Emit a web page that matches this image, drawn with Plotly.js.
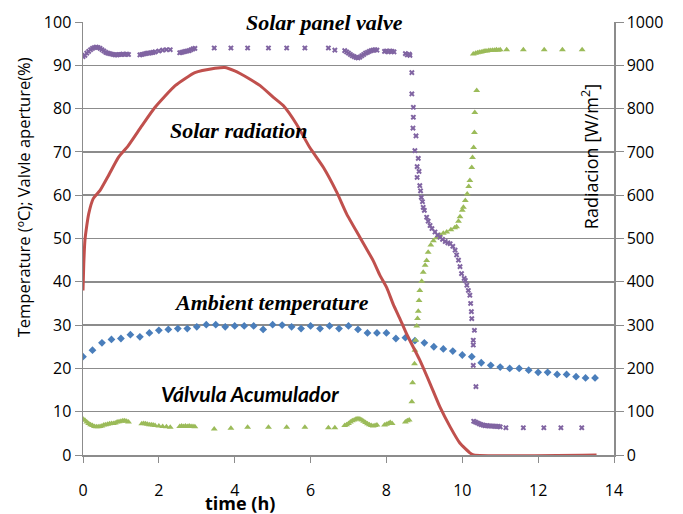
<!DOCTYPE html>
<html>
<head>
<meta charset="utf-8">
<script src="https://cdn.plot.ly/plotly-3.0.1.min.js"></script>
<style>html,body{margin:0;padding:0;background:#fff;}#chart{width:683px;height:514px;}</style>
</head>
<body>
<div id="chart"></div>
<script>
// Solar radiation (W/m2)
const radTime = [0, 0.02, 0.05, 0.1, 0.15, 0.27, 0.45, 0.67, 0.93, 1.19, 1.55, 1.9, 2.43, 2.95, 3.48, 3.74, 4.0, 4.14, 4.36, 4.67, 5.02, 5.28, 5.63, 5.98, 6.34, 6.69, 6.95, 7.3, 7.65, 7.83, 8.01, 8.18, 8.36, 8.53, 8.88, 9.15, 9.41, 9.68, 9.94, 10.2, 10.3, 13.54];
const radValue = [380, 440, 495, 530, 557, 592, 611, 645, 687, 714, 760, 803, 853, 883, 893, 895, 887, 881, 870, 853, 826, 807, 764, 710, 664, 607, 557, 503, 449, 415, 386, 348, 314, 280, 219, 165, 111, 65, 27, 5, 0, 0];

// Ambient temperature (ºC)
const ambTime = [0, 0.25, 0.5, 0.75, 1.0, 1.25, 1.5, 1.75, 2.0, 2.25, 2.5, 2.75, 3.0, 3.25, 3.5, 3.75, 4.0, 4.25, 4.5, 4.75, 5.0, 5.25, 5.5, 5.75, 6.0, 6.25, 6.5, 6.75, 7.0, 7.25, 7.5, 7.75, 8.0, 8.25, 8.5, 8.75, 9.0, 9.25, 9.5, 9.75, 10.0, 10.25, 10.5, 10.75, 11.0, 11.25, 11.5, 11.75, 12.0, 12.25, 12.5, 12.75, 13.0, 13.25, 13.5];
const ambValue = [22.7, 24.2, 25.9, 26.7, 26.9, 27.8, 27.3, 28.2, 28.8, 29.0, 29.2, 29.2, 29.6, 30.1, 30.1, 29.6, 29.8, 29.8, 29.8, 29.0, 30.1, 30.0, 29.6, 29.2, 29.8, 29.2, 29.8, 29.2, 29.8, 29.0, 28.2, 28.2, 28.2, 26.9, 27.1, 26.4, 25.9, 25.0, 24.5, 24.0, 23.1, 22.7, 21.3, 20.7, 20.3, 20.0, 20.0, 19.6, 19.1, 19.1, 18.6, 18.6, 18.1, 17.8, 17.8];

// Solar panel valve (%)
const panelTime = [0.0, 0.05, 0.1, 0.15, 0.2, 0.25, 0.3, 0.35, 0.4, 0.45, 0.5, 0.55, 0.6, 0.65, 0.7, 0.75, 0.8, 0.85, 0.9, 0.95, 1.0, 1.05, 1.1, 1.15, 1.2,
  1.5, 1.55, 1.6, 1.65, 1.7, 1.75, 1.8, 1.85, 1.9, 2.0, 2.1, 2.2, 2.3,
  2.55, 2.6, 2.65, 2.7, 2.75, 2.8, 2.85, 2.9, 2.95,
  3.46, 3.90, 4.34, 4.89, 5.37, 5.85, 6.47, 6.64,
  6.9, 6.95, 7.0, 7.05, 7.1, 7.15, 7.2, 7.25, 7.3, 7.35, 7.4, 7.45, 7.5, 7.55, 7.6, 7.65, 7.7, 7.75,
  7.95, 8.0, 8.05, 8.1, 8.15, 8.2,
  8.5, 8.55, 8.6, 8.62,
  8.67, 8.67, 8.71, 8.71, 8.70, 8.78, 8.75, 8.81, 8.84, 8.81, 8.86, 8.88, 8.9, 8.92, 8.95, 8.97, 9.0, 9.06, 9.1, 9.15, 9.2, 9.28, 9.35, 9.41, 9.48, 9.55, 9.62, 9.68, 9.75, 9.81, 9.85, 9.9, 9.94, 9.98, 10.05, 10.08, 10.12, 10.16, 10.2, 10.22, 10.24, 10.25, 10.32, 10.29, 10.29, 10.29, 10.36,
  10.3, 10.35, 10.4, 10.45, 10.5, 10.55, 10.6, 10.65, 10.7, 10.75, 10.8, 10.85, 10.9, 10.95, 11.0,
  11.15, 11.61, 12.15, 12.6, 13.15];
const panelValue = [92.0, 92.3, 92.8, 93.2, 93.6, 93.9, 94.1, 94.2, 94.1, 93.9, 93.6, 93.3, 93.0, 92.8, 92.7, 92.6, 92.5, 92.4, 92.4, 92.5, 92.5, 92.6, 92.5, 92.6, 92.5,
  92.4, 92.5, 92.6, 92.7, 92.8, 92.8, 92.9, 93.0, 93.1, 93.3, 93.5, 93.6, 93.6,
  92.9, 93.0, 93.1, 93.2, 93.3, 93.4, 93.6, 93.8, 93.9,
  94.0, 94.0, 94.0, 94.0, 94.0, 94.0, 94.0, 93.5,
  93.4, 93.1, 92.8, 92.5, 92.2, 92.0, 91.8, 91.7, 91.9, 92.2, 92.5, 92.8, 93.0, 93.2, 93.4, 93.5, 93.6, 93.5,
  93.2, 93.3, 93.1, 93.3, 93.2, 93.1,
  92.7, 92.4, 92.6, 92.3,
  88.3, 83.4, 80.3, 78.0, 75.5, 73.7, 70.3, 66.6, 68.5, 64.1, 65.5, 62.2, 61.0, 59.5, 58.5, 57.2, 56.5, 54.9, 54.0, 53.0, 52.3, 51.5, 50.8, 50.3, 49.8, 49.3, 49.0, 48.8, 48.2, 47.3, 46.2, 45.0, 43.5, 41.9, 40.8, 40.3, 39.2, 38.0, 36.9, 35.0, 33.1, 31.5, 28.8, 26.5, 25.4, 20.7, 15.8,
  7.8, 7.6, 7.4, 7.2, 7.0, 6.9, 6.8, 6.8, 6.7, 6.7, 6.7, 6.6, 6.6, 6.6, 6.5,
  6.3, 6.3, 6.3, 6.3, 6.3];

// Válvula Acumulador (%)
const accTime = [0.0, 0.05, 0.1, 0.15, 0.2, 0.25, 0.3, 0.35, 0.4, 0.45, 0.5, 0.55, 0.6, 0.65, 0.7, 0.75, 0.8, 0.85, 0.9, 0.95, 1.0, 1.05, 1.1, 1.15, 1.2,
  1.55, 1.6, 1.65, 1.7, 1.75, 1.8, 1.85, 1.9, 2.0, 2.1, 2.2, 2.3,
  2.55, 2.6, 2.65, 2.7, 2.75, 2.8, 2.85, 2.9, 2.95,
  3.46, 3.90, 4.34, 4.89, 5.37, 5.85, 6.47, 6.64,
  6.9, 6.95, 7.0, 7.05, 7.1, 7.15, 7.2, 7.25, 7.3, 7.35, 7.4, 7.45, 7.5, 7.55, 7.6, 7.65, 7.7, 7.75,
  7.95, 8.0, 8.05, 8.1, 8.15,
  8.5, 8.55, 8.6,
  8.67, 8.69, 8.74, 8.75, 8.77, 8.8, 8.82, 8.84, 8.86, 8.88, 8.93, 8.97, 9.02, 9.06, 9.1, 9.17, 9.24, 9.32, 9.41, 9.5, 9.59, 9.7, 9.8, 9.85, 9.9, 9.94, 10.0, 10.03, 10.08, 10.13, 10.17, 10.2, 10.25, 10.27, 10.3, 10.32, 10.33, 10.38,
  10.29, 10.35, 10.4, 10.45, 10.5, 10.55, 10.6, 10.65, 10.7, 10.75, 10.8, 10.85, 10.9, 10.95, 11.0,
  11.17, 11.61, 12.16, 12.64, 13.16];
const accValue = [8.3, 8.0, 7.6, 7.3, 7.0, 6.8, 6.6, 6.5, 6.5, 6.6, 6.7, 6.9, 7.0, 7.1, 7.2, 7.3, 7.3, 7.4, 7.6, 7.7, 7.8, 7.9, 7.9, 7.8, 7.6,
  7.2, 7.3, 7.2, 7.1, 7.0, 7.0, 6.9, 6.8, 6.7, 6.6, 6.5, 6.4,
  6.6, 6.7, 6.6, 6.7, 6.6, 6.7, 6.6, 6.6, 6.5,
  6.0, 6.2, 6.4, 6.4, 6.4, 6.4, 6.3, 6.3,
  6.8, 7.0, 7.3, 7.6, 7.9, 8.1, 8.3, 8.4, 8.3, 8.1, 7.8, 7.5, 7.2, 7.0, 6.8, 6.7, 6.8, 6.9,
  6.9, 7.1, 7.3, 7.5, 7.3,
  7.6, 7.9, 8.1,
  12.3, 16.7, 21.1, 24.2, 26.5, 29.8, 31.5, 33.2, 35.7, 38.0, 40.1, 42.2, 43.8, 44.9, 46.8, 48.5, 49.5, 50.2, 50.8, 51.2, 51.5, 52.0, 52.5, 52.7, 54.0, 55.0, 56.5, 57.2, 58.8, 60.3, 62.0, 63.4, 66.4, 68.7, 71.0, 74.5, 79.1, 84.2,
  92.6, 92.8, 92.9, 93.0, 93.1, 93.2, 93.3, 93.3, 93.4, 93.4, 93.5, 93.5, 93.6, 93.5, 93.6,
  93.6, 93.6, 93.6, 93.6, 93.6];

const xTicks = [0, 2, 4, 6, 8, 10, 12, 14];
const yTicks = [0, 10, 20, 30, 40, 50, 60, 70, 80, 90, 100];
const y2Ticks = [0, 100, 200, 300, 400, 500, 600, 700, 800, 900, 1000];

const tickFont = {family: 'Open Sans, sans-serif', size: 16, color: '#000'};
const serifLab = {family: 'Liberation Serif, serif', size: 22, color: '#000'};

const traces = [
  {x: ambTime, y: ambValue, type: 'scatter', mode: 'markers', name: 'Ambient temperature',
   marker: {symbol: 'diamond', size: 6, color: '#4a7ebb'}},
  {x: accTime, y: accValue, type: 'scatter', mode: 'markers', name: 'Válvula Acumulador',
   marker: {symbol: 'triangle-up', size: 6, color: '#9bbb59'}},
  {x: panelTime, y: panelValue, type: 'scatter', mode: 'markers', name: 'Solar panel valve',
   marker: {symbol: 'x', size: 5, color: '#8064a2'}},
  {x: radTime, y: radValue, type: 'scatter', mode: 'lines', name: 'Solar radiation', yaxis: 'y2',
   line: {color: '#c0504d', width: 3, shape: 'spline', smoothing: 0.5}}
];

const layout = {
  width: 683, height: 514,
  margin: {l: 83, r: 69, t: 22, b: 59},
  paper_bgcolor: '#fff', plot_bgcolor: '#fff',
  showlegend: false,
  xaxis: {range: [0, 14], tickvals: xTicks, ticktext: xTicks.map(String), showgrid: false, zeroline: false,
    showline: true, linecolor: '#8c8c8c', linewidth: 1.5, ticks: 'outside', ticklen: 6, tickcolor: '#8c8c8c',
    ticklabelstandoff: 14, tickfont: tickFont},
  yaxis: {range: [0, 100], tickvals: yTicks, ticktext: yTicks.map(String), showgrid: true, gridcolor: '#8c8c8c', gridwidth: 1.5,
    zeroline: false, showline: true, linecolor: '#8c8c8c', linewidth: 1.5, ticks: 'outside', ticklen: 7, tickcolor: '#8c8c8c',
    tickfont: tickFont},
  yaxis2: {range: [0, 1000], tickvals: y2Ticks, ticktext: y2Ticks.map(String), overlaying: 'y', side: 'right', showgrid: false,
    zeroline: false, showline: true, linecolor: '#8c8c8c', linewidth: 1.5, ticks: 'outside', ticklen: 8, tickcolor: '#8c8c8c',
    tickfont: tickFont},
  annotations: [
    {text: '<b><i>Solar panel valve</i></b>', x: 6.38, y: 100, xref: 'x', yref: 'y', xanchor: 'center', yanchor: 'middle', showarrow: false, font: serifLab},
    {text: '<b><i>Solar radiation</i></b>', x: 4.11, y: 75, xref: 'x', yref: 'y', xanchor: 'center', yanchor: 'middle', showarrow: false, font: serifLab},
    {text: '<b><i>Ambient temperature</i></b>', x: 4.96, y: 35.3, xref: 'x', yref: 'y', xanchor: 'center', yanchor: 'middle', showarrow: false, font: serifLab},
    {text: '<b><i>Válvula Acumulador</i></b>', x: 4.40, y: 14.3, xref: 'x', yref: 'y', xanchor: 'center', yanchor: 'middle', showarrow: false,
     font: {family: 'Lato, sans-serif', size: 21, color: '#000'}},
    {text: 'Temperature (ºC); Valvle aperture(%)', xref: 'paper', yref: 'paper', x: -0.112, y: 0.594, xanchor: 'center', yanchor: 'middle', textangle: -90,
     showarrow: false, font: {family: 'Open Sans, sans-serif', size: 16.5, color: '#000'}},
    {text: 'Radiacion [W/m<sup>2</sup>]', xref: 'paper', yref: 'paper', x: 0.955, y: 0.688, xanchor: 'center', yanchor: 'middle', textangle: -90,
     showarrow: false, font: {family: 'Open Sans, sans-serif', size: 18, color: '#000'}},
    {text: '<b>time (h)</b>', xref: 'paper', yref: 'paper', x: (240 - 83) / 531, y: -0.11, xanchor: 'center', yanchor: 'middle',
     showarrow: false, font: {family: 'Open Sans, sans-serif', size: 18, color: '#000'}}
  ]
};

Plotly.newPlot('chart', traces, layout, {staticPlot: true, displayModeBar: false});
</script>
</body>
</html>
